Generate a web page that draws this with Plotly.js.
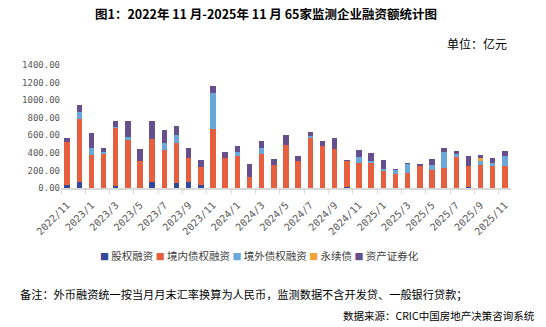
<!DOCTYPE html>
<html><head><meta charset="utf-8">
<script src="https://cdn.plot.ly/plotly-3.0.1.min.js"></script>
<style>html,body{margin:0;padding:0;background:#fff;}#chart{width:546px;height:327px;}</style>
</head><body><div id="chart"></div>
<script>
const months = ['2022/11','2022/12','2023/1','2023/2','2023/3','2023/4','2023/5','2023/6','2023/7','2023/8','2023/9','2023/10',
 '2023/11','2023/12','2024/1','2024/2','2024/3','2024/4','2024/5','2024/6','2024/7','2024/8','2024/9','2024/10',
 '2024/11','2024/12','2025/1','2025/2','2025/3','2025/4','2025/5','2025/6','2025/7','2025/8','2025/9','2025/10','2025/11'];
const seriesNames = ['股权融资','境内债权融资','境外债权融资','永续债','资产证券化'];
const seriesColors = ['#34499A','#E6603F','#6AA7DB','#F2A43A','#654F8C'];
const equity    = [38,72,0,0,26,0,0,72,0,60,72,38,0,0,0,0,0,0,0,0,0,0,0,8,0,0,0,0,0,0,0,0,0,8,0,0,0];
const domestic  = [487,713,374,389,661,551,302,490,438,453,275,204,672,347,366,128,389,264,491,309,570,479,445,301,287,287,196,162,174,253,208,230,355,245,264,253,253];
const overseas  = [0,79,83,22,11,30,11,0,75,91,0,0,407,0,45,0,68,0,0,0,23,0,0,0,68,22,23,46,102,0,56,181,34,0,45,34,113];
const perpetual = [0,0,0,0,0,0,0,0,0,0,0,0,0,0,0,0,0,0,0,0,0,0,0,0,0,0,0,0,0,0,0,0,0,0,34,0,0];
const abs       = [45,80,170,46,64,181,132,200,147,102,110,79,80,64,68,148,79,68,113,57,45,57,125,12,79,91,102,11,11,23,68,46,34,113,34,56,57];
const titleText = '图1：2022年 11 月-2025年 11 月 65家监测企业融资额统计图';
const unitText = '单位：亿元';
const noteText = '备注：外币融资统一按当月月末汇率换算为人民币，监测数据不含开发贷、一般银行贷款；';
const sourceText = '数据来源：CRIC中国房地产决策咨询系统';

const values = [equity, domestic, overseas, perpetual, abs];
const traces = values.map((v,i)=>({
  type:'bar', x:months, y:v, name:seriesNames[i],
  marker:{color:seriesColors[i], line:{width:0}}, hoverinfo:'x+y+name'
}));

const legendHtml = seriesNames.map((n,i)=>'<span style="color:'+seriesColors[i]+';font-size:9px">■</span> '+n).join(' ');
const cjk = '"Noto Sans CJK SC", "Noto Sans", sans-serif';

const layout = {
  width:546, height:327,
  margin:{l:61, r:35, t:65, b:139},
  paper_bgcolor:'#fff', plot_bgcolor:'#fff',
  barmode:'stack', bargap:0.55, showlegend:false,
  font:{family:cjk, color:'#404040'},
  xaxis:{type:'category', tickmode:'linear', tick0:0, dtick:2, tickson:'boundaries',
    ticks:'outside', ticklen:4, tickcolor:'#d9d9d9', showline:true, linecolor:'#d9d9d9', linewidth:1.5,
    showgrid:false, tickangle:-45, ticklabelstandoff:6,
    tickfont:{family:'"DejaVu Sans Mono", monospace', size:10, color:'#595959'},
    fixedrange:true},
  yaxis:{range:[0,1400], dtick:200, tickformat:'.2f', showgrid:false, zeroline:false, showline:false,
    tickfont:{family:'"DejaVu Sans Mono", monospace', size:9, color:'#595959'}, ticks:'', fixedrange:true},
  annotations:[
    {text:'<b>'+titleText+'</b>', xref:'paper', yref:'paper', x:0.455, y:1, xanchor:'center', yanchor:'middle',
     yshift:(65-13.5), showarrow:false, font:{family:cjk, size:12.5, color:'#000'}},
    {text:unitText, xref:'paper', yref:'paper', x:1, y:1, xanchor:'right', yanchor:'middle',
     xshift:-2, yshift:(65-43.5), showarrow:false, font:{family:cjk, size:12, color:'#000'}},
    {text:legendHtml, xref:'paper', yref:'paper', x:0.44, y:0, xanchor:'center', yanchor:'middle',
     yshift:-(255-188), showarrow:false, font:{family:cjk, size:10.5, color:'#404040'}},
    {text:noteText, xref:'paper', yref:'paper', x:0, y:0, xanchor:'left', yanchor:'middle',
     xshift:-(61-18), yshift:-(294-188), showarrow:false, font:{family:cjk, size:11.2, color:'#000'}},
    {text:sourceText, xref:'paper', yref:'paper', x:1, y:0, xanchor:'right', yanchor:'middle',
     xshift:(537-511), yshift:-(315-188), showarrow:false, font:{family:cjk, size:10.5, color:'#000'}}
  ]
};
Plotly.newPlot('chart', traces, layout, {displayModeBar:false, staticPlot:true});
</script></body></html>
